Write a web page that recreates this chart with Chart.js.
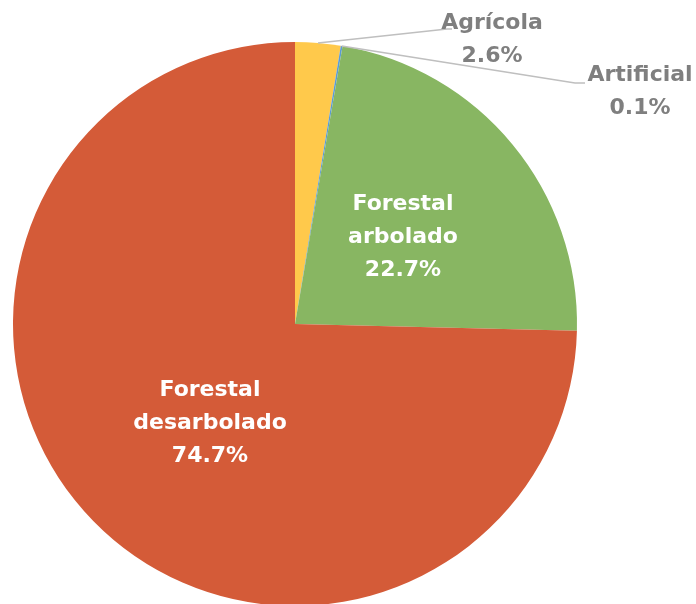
<!DOCTYPE html>
<html>
<head>
<meta charset="utf-8">
<script src="https://cdn.jsdelivr.net/npm/chart.js@4.4.1/dist/chart.umd.min.js"></script>
<style>
  html, body { margin: 0; padding: 0; background: #fff; overflow: hidden; }
  #wrap { position: absolute; left: 0; top: 0; width: 696px; height: 606px; }
</style>
</head>
<body>
<div id="wrap"><canvas id="pie" width="696" height="606"></canvas></div>
<script>
// === DATA ===
const categories = ['Agrícola', 'Artificial', 'Forestal arbolado', 'Forestal desarbolado'];
const labelLines = [['Agrícola'], ['Artificial'], ['Forestal', 'arbolado'], ['Forestal', 'desarbolado']];
const shares = [2.6, 0.1, 22.7, 74.7];
const colors = ['#FFC94B', '#5B9BD5', '#88B662', '#D45B38'];

// label placement (relative to pie centre); outside ones get a leader line
const labelPos = [
  { dx: 197, dy: -284, outside: true, elbow: [152, -295], end: [157, -295] },
  { dx: 345, dy: -232, outside: true, elbow: [280, -241], end: [290, -241] },
  { dx: 108, dy: -87 },
  { dx: -85, dy: 99 }
];

const FONT = 'bold 22px "DejaVu Sans", sans-serif';

const labelPlugin = {
  id: 'sliceLabels',
  afterDatasetsDraw(chart) {
    const ctx = chart.ctx;
    const meta = chart.getDatasetMeta(0);
    ctx.save();
    ctx.font = FONT;
    ctx.textAlign = 'center';
    ctx.textBaseline = 'middle';
    meta.data.forEach((arc, i) => {
      const p = labelPos[i];
      const cx = arc.x, cy = arc.y;
      const lines = labelLines[i].concat([shares[i].toFixed(1) + '%']);
      if (p.outside) {
        const mid = (arc.startAngle + arc.endAngle) / 2;
        const ax = cx + Math.cos(mid) * arc.outerRadius;
        const ay = cy + Math.sin(mid) * arc.outerRadius;
        ctx.strokeStyle = '#BFBFBF';
        ctx.lineWidth = 1.5;
        ctx.beginPath();
        ctx.moveTo(ax, ay);
        ctx.lineTo(cx + p.elbow[0], cy + p.elbow[1]);
        ctx.lineTo(cx + p.end[0], cy + p.end[1]);
        ctx.stroke();
        ctx.fillStyle = '#7F7F7F';
      } else {
        ctx.fillStyle = '#FFFFFF';
      }
      const lh = 33;
      const x = cx + p.dx;
      const y0 = cy + p.dy - (lines.length - 1) * lh / 2;
      lines.forEach((t, k) => ctx.fillText(t, x, y0 + k * lh));
    });
    ctx.restore();
  }
};

new Chart(document.getElementById('pie'), {
  type: 'pie',
  data: {
    labels: categories,
    datasets: [{
      data: shares,
      backgroundColor: colors,
      borderWidth: 0
    }]
  },
  options: {
    responsive: false,
    animation: false,
    layout: { padding: { left: 13, right: 119, top: 42, bottom: 0 } },
    plugins: {
      legend: { display: false },
      tooltip: { enabled: false }
    }
  },
  plugins: [labelPlugin]
});
</script>
</body>
</html>
